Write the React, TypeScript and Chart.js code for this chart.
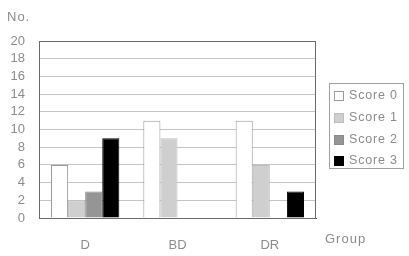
import React, { useEffect, useRef } from "react";
import { Chart, registerables } from "chart.js";

Chart.register(...registerables);

const categories = ["D", "BD", "DR"];
const seriesNames = ["Score 0", "Score 1", "Score 2", "Score 3"];
const score0 = [6, 11, 11];
const score1 = [2, 9, 6];
const score2 = [3, 0, 0];
const score3 = [9, 0, 3];
const yTicks = [0, 2, 4, 6, 8, 10, 12, 14, 16, 18, 20];

const fills = ["#ffffff", "#cfcfcf", "#959595", "#000000"];
const borders = ["#9a9a9a", "#bdbdbd", "#8a8a8a", "#000000"];
const textColor = "#8c8c8c";
const FONT = "Arial, 'Liberation Sans', sans-serif";

const extras = {
  id: "extras",
  afterDraw(chart: any) {
    const { ctx, chartArea } = chart;
    ctx.save();
    // plot box
    ctx.strokeStyle = "#6a6a6a";
    ctx.lineWidth = 1;
    ctx.strokeRect(chartArea.left + 0.5, chartArea.top + 0.5, chartArea.right - chartArea.left - 1, chartArea.bottom - chartArea.top);
    ctx.fillStyle = textColor;
    ctx.font = `13px ${FONT}`;
    (ctx as any).letterSpacing = "1px";
    ctx.textBaseline = "middle";
    ctx.textAlign = "left";
    ctx.fillText("No.", 7, 17);
    ctx.fillText("Group", 325, 239);
    // legend
    const lx = 329, ly = 83, lw = 74, lh = 85;
    ctx.strokeStyle = "#a0a0a0";
    ctx.strokeRect(lx + 0.5, ly + 0.5, lw, lh);
    const rows = [96, 118, 140, 161];
    ctx.font = `12.5px ${FONT}`;
    (ctx as any).letterSpacing = "0.8px";
    chart.data.datasets.forEach((ds: any, i: number) => {
      const y = rows[i];
      ctx.fillStyle = ds.backgroundColor;
      ctx.fillRect(334, y - 5, 10, 10);
      ctx.strokeStyle = ds.borderColor;
      ctx.strokeRect(334.5, y - 4.5, 9, 9);
      ctx.fillStyle = textColor;
      ctx.fillText(ds.label, 349, y);
    });
    ctx.restore();
  },
};

export default function App() {
  const ref = useRef<HTMLCanvasElement>(null);
  useEffect(() => {
    document.body.style.margin = "0";
    const data = [score0, score1, score2, score3];
    const chart = new Chart(ref.current!, {
      type: "bar",
      data: {
        labels: categories,
        datasets: seriesNames.map((name, i) => ({
          label: name,
          data: data[i],
          backgroundColor: fills[i],
          borderColor: borders[i],
          borderWidth: 1,
          barPercentage: 1,
          categoryPercentage: 0.74,
        })),
      },
      options: {
        responsive: false,
        animation: false,
        layout: { padding: { top: 41, right: 93, left: 0, bottom: 0 } },
        plugins: { legend: { display: false }, tooltip: { enabled: false } },
        scales: {
          x: {
            grid: { display: false, drawTicks: false },
            border: { color: "#444", width: 1 },
            ticks: { color: textColor, font: { size: 13, family: FONT }, padding: 20 },
            afterFit(scale: any) {
              scale.height = 38;
            },
          },
          y: {
            min: 0,
            max: 20,
            afterBuildTicks(scale: any) {
              scale.ticks = yTicks.map((v) => ({ value: v }));
            },
            grid: { color: "#c4c4c4", drawTicks: false },
            border: { color: "#444", width: 1 },
            ticks: { color: textColor, font: { size: 13, family: FONT }, padding: 14, autoSkip: false, stepSize: 2 },
            afterFit(scale: any) {
              scale.width = 39;
            },
          },
        },
      },
      plugins: [extras],
    });
    return () => chart.destroy();
  }, []);
  return (
    <div style={{ position: "absolute", left: 0, top: 0, width: 409, height: 256, background: "#fff" }}>
      <canvas ref={ref} width={409} height={256} />
    </div>
  );
}
